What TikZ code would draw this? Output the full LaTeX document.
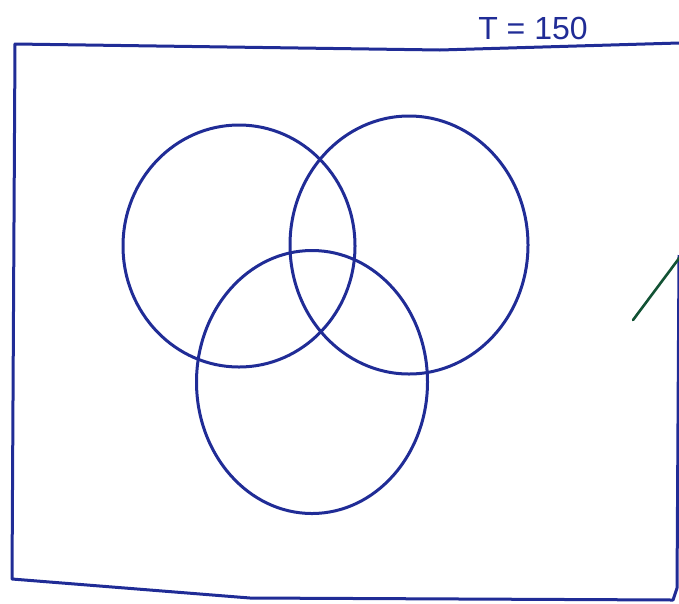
\documentclass[tikz,border=0pt]{standalone}
\usepackage{fontspec}
\setmainfont{Liberation Sans}
\usetikzlibrary{shapes.geometric}
\definecolor{inkblue}{RGB}{32,44,150}
\definecolor{inkgreen}{RGB}{18,82,52}

\begin{document}
\begin{tikzpicture}[
    x=1pt, y=-1pt,
    set/.style={ellipse, draw=inkblue, line width=3pt, inner sep=0pt},
    frame/.style={draw=inkblue, line width=3pt, line join=round},
    every node/.style={inner sep=0pt}
]
\useasboundingbox (0,0) rectangle (679,603);

\draw[frame] (679,43) -- (440,50) -- (15,44) -- (12,579) -- (250,598) -- (673,600) -- (677,588) -- (679,255);

\node[set, minimum width=232pt, minimum height=242pt] (A) at (239,246) {};
\node[set, minimum width=238pt, minimum height=258pt] (B) at (409,245) {};
\node[set, minimum width=231pt, minimum height=263pt] (C) at (312,382) {};

\node[font=\fontsize{32}{34}\selectfont, text=inkblue] (total) at (533,28) {T = 150};

\coordinate (g1) at (633,320);
\coordinate (g2) at (680,257);
\draw[inkgreen, line width=2.6pt, line cap=round] (g1) -- (g2);
\end{tikzpicture}
\end{document}
